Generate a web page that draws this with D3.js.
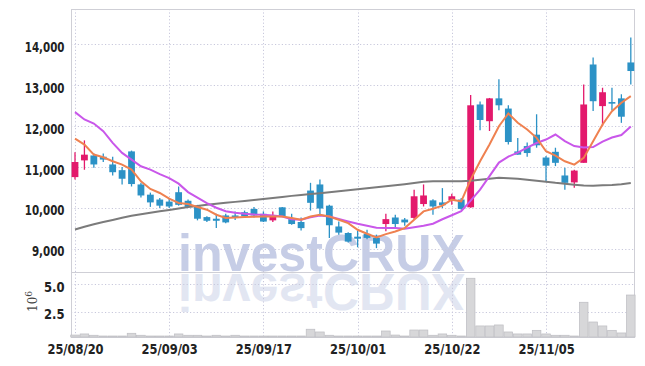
<!DOCTYPE html>
<html><head><meta charset="utf-8">
<script src="https://cdn.jsdelivr.net/npm/d3@7/dist/d3.min.js"></script>
<style>
html,body{margin:0;padding:0;background:#fff;}
svg{display:block;}
</style></head><body>
<svg id="c" width="645" height="366"></svg>
<script>
// ---- data ----
const dates = ["25/08/20","25/08/21","25/08/22","25/08/25","25/08/26","25/08/27","25/08/28","25/08/29","25/09/01","25/09/02",
"25/09/03","25/09/04","25/09/05","25/09/08","25/09/09","25/09/10","25/09/11","25/09/12","25/09/15","25/09/16",
"25/09/17","25/09/18","25/09/19","25/09/22","25/09/23","25/09/24","25/09/25","25/09/26","25/09/29","25/09/30",
"25/10/01","25/10/02","25/10/10","25/10/13","25/10/14","25/10/15","25/10/16","25/10/17","25/10/20","25/10/21",
"25/10/22","25/10/23","25/10/24","25/10/27","25/10/28","25/10/29","25/10/30","25/10/31","25/11/03","25/11/04",
"25/11/05","25/11/06","25/11/07","25/11/10","25/11/11","25/11/12","25/11/13","25/11/14","25/11/17","25/11/18"];
const open = [10750,11160,11280,11250,11060,10920,11380,10570,10320,10200,
10150,10380,10170,10030,9770,9730,9810,9810,9890,9970,
9850,9690,10010,9720,9650,10420,10570,10050,9540,9380,
9290,9360,9260,9600,9760,9710,9750,10090,10180,10130,
10180,10200,10010,12530,12120,12680,12430,11380,11510,11790,
11230,11370,10790,10620,11100,13510,12490,12590,12680,13560];
const high = [11360,11650,11330,11330,11250,11000,11400,10610,10370,10240,
10240,10520,10200,10070,9790,9850,9850,9910,9930,10020,
9910,9910,10020,9850,9760,10610,10690,10070,9660,9400,
9440,9460,9340,9850,9830,9750,10440,10570,10210,10480,
10340,10240,12760,12600,12690,13150,12510,11710,11600,12290,
11270,11470,10980,10930,13020,13680,12940,12940,12780,14170];
const low = [10690,10930,10980,11120,10790,10570,10520,10250,10020,9990,
9990,10050,10000,9690,9650,9500,9620,9700,9760,9760,
9650,9650,9780,9580,9440,9930,9790,9260,9340,9150,
9030,9230,9010,9420,9500,9560,9710,10030,9830,9990,
10070,9950,10000,11900,11880,12390,11550,11300,11250,11470,
10650,11020,10440,10490,11100,12370,12000,12390,12080,13020];
const close = [11120,11300,11060,11180,10870,10710,10580,10300,10130,10050,
10030,10070,10020,9730,9680,9680,9640,9760,9790,9810,
9660,9790,9790,9600,9500,10120,9980,9570,9390,9170,
9240,9260,9120,9720,9600,9640,10280,10300,10030,10060,
10280,9970,12510,12150,12680,12510,11610,11300,11340,11530,
11030,11100,10610,10910,12530,12610,12830,12550,12230,13350];
const volume = [0.37,0.47,0.35,0.25,0.25,0.25,0.53,0.35,0.25,0.25,
0.25,0.47,0.35,0.35,0.25,0.35,0.25,0.35,0.25,0.25,
0.25,0.25,0.25,0.25,0.25,0.9,0.65,0.35,0.25,0.25,
0.25,0.25,0.25,0.74,0.37,0.25,0.83,0.83,0.35,0.47,
0.35,0.25,5.55,1.2,1.2,1.29,0.65,0.47,0.47,0.8,
0.47,0.35,0.35,0.25,3.36,1.56,1.2,0.8,0.56,4.02];
const ma5 = [11695,11548,11302,11236,11138,11057,10934,10646,10459,10361,
10221,10115,10091,10017,9951,9828,9747,9762,9771,9779,
9786,9786,9786,9747,9705,9786,9828,9786,9705,9623,
9459,9361,9271,9353,9418,9501,9705,9910,9975,10049,
10197,10155,10688,11138,11548,11998,12310,12081,11916,11712,
11383,11278,11138,11057,11221,11629,12039,12366,12572,12735];
const ma20 = [12342,12162,12064,11875,11590,11344,11180,11015,10934,10823,
10725,10590,10383,10246,10110,10000,9914,9877,9853,9836,
9828,9811,9784,9717,9705,9767,9811,9786,9722,9663,
9607,9558,9509,9501,9501,9484,9521,9558,9607,9717,
9816,9914,10172,10442,10774,11106,11253,11351,11474,11585,
11671,11794,11634,11511,11474,11486,11622,11720,11781,11990];
const ma60 = [9464,9533,9595,9649,9700,9754,9803,9840,9877,9914,
9946,9983,10015,10044,10074,10098,10120,10143,10167,10189,
10214,10238,10265,10290,10314,10337,10356,10378,10403,10425,
10450,10477,10501,10528,10553,10577,10604,10636,10646,10646,
10646,10646,10663,10688,10712,10737,10725,10708,10688,10659,
10634,10609,10590,10565,10545,10541,10548,10558,10577,10607];
const tickLabels = ["25/08/20","25/09/03","25/09/17","25/10/01","25/10/22","25/11/05"];
const priceTicks = [9000,10000,11000,12000,13000,14000];
const volTicks = [2.5,5.0];

// ---- layout ----
const L = 71, R = 635, T = 9, SEP = 272.3, B = 337;
const svg = d3.select("#c");
const x = d3.scalePoint().domain(dates).range([75, 630.8]);
const y = d3.scaleLinear().domain([8417, 14870]).range([SEP, T]);
const yv = d3.scaleLinear().domain([0, 6.12]).range([339.1, 272]);
const FONT = "'DejaVu Sans','Liberation Sans',sans-serif";
const RED = "#e3196c", BLUE = "#2c92c6";
const GRID = "#c8c8dc";

// watermark
const wm = svg.append("g");
wm.append("text").attr("x", 178).attr("y", 271).attr("textLength", 287).attr("lengthAdjust","spacingAndGlyphs")
  .attr("font-family","'Liberation Sans',Arial,sans-serif").attr("font-weight","bold").attr("font-size", 52)
  .attr("fill","#c6cde6").text("investCRUX");
wm.append("text").attr("x", 178).attr("y", 271).attr("textLength", 287).attr("lengthAdjust","spacingAndGlyphs")
  .attr("transform","translate(0,545) scale(1,-1)")
  .attr("font-family","'Liberation Sans',Arial,sans-serif").attr("font-weight","bold").attr("font-size", 52)
  .attr("fill","#e2e6f2").text("investCRUX");

// grid
const grid = svg.append("g").attr("stroke", GRID).attr("stroke-dasharray","1.2,2.2").attr("stroke-width",1);
grid.selectAll(".hp").data(priceTicks).join("line")
  .attr("x1", L).attr("x2", R).attr("y1", d => Math.round(y(d))+0.5).attr("y2", d => Math.round(y(d))+0.5);
grid.selectAll(".hv").data(volTicks).join("line")
  .attr("x1", L).attr("x2", R).attr("y1", d => Math.round(yv(d))+0.5).attr("y2", d => Math.round(yv(d))+0.5);
grid.selectAll(".vv").data(tickLabels).join("line")
  .attr("x1", d => Math.round(x(d))+0.5).attr("x2", d => Math.round(x(d))+0.5).attr("y1", T).attr("y2", B);

// frame
const frame = svg.append("g").attr("stroke","#cfcfd6").attr("fill","none").attr("stroke-width",1);
frame.append("rect").attr("x", L+0.5).attr("y", T+0.5).attr("width", R-L-1).attr("height", B-T);
frame.append("line").attr("x1", L).attr("x2", R).attr("y1", Math.round(SEP)+0.5).attr("y2", Math.round(SEP)+0.5);

// volume bars
svg.append("g").selectAll("rect").data(dates).join("rect")
  .attr("x", d => x(d) - 4.3).attr("width", 8.6)
  .attr("y", (d,i) => Math.min(yv(volume[i]), B-1))
  .attr("height", (d,i) => Math.max(1, B - yv(volume[i])))
  .attr("fill","#d7d7d9").attr("stroke","#bdbdc2").attr("stroke-width",0.7);

// candles
const cg = svg.append("g");
dates.forEach((d,i) => {
  const up = close[i] >= open[i];
  const col = up ? RED : BLUE;
  const cx = x(d);
  cg.append("line").attr("x1", cx).attr("x2", cx).attr("y1", y(high[i])).attr("y2", y(low[i]))
    .attr("stroke", col).attr("stroke-width", 1.3);
  const top = y(Math.max(open[i], close[i])), bot = y(Math.min(open[i], close[i]));
  cg.append("rect").attr("x", cx - 3.4).attr("width", 6.8).attr("y", top).attr("height", Math.max(1.2, bot - top))
    .attr("fill", col);
});

// moving averages
const line = arr => d3.line().x((d,i) => x(dates[i])).y(d => y(d)).curve(d3.curveLinear)(arr);
svg.append("path").attr("d", line(ma60)).attr("fill","none").attr("stroke","#7b7b7b").attr("stroke-width",2);
svg.append("path").attr("d", line(ma20)).attr("fill","none").attr("stroke","#c957ea").attr("stroke-width",2);
svg.append("path").attr("d", line(ma5)).attr("fill","none").attr("stroke","#ef8150").attr("stroke-width",2);

// axes
const ya = svg.append("g").attr("transform", `translate(${L},0)`)
  .call(d3.axisLeft(y).tickValues(priceTicks).tickSize(0).tickPadding(6.5).tickFormat(d3.format(",")));
const yva = svg.append("g").attr("transform", `translate(${L},0)`)
  .call(d3.axisLeft(yv).tickValues(volTicks).tickSize(0).tickPadding(6.5).tickFormat(d3.format(".1f")));
const xa = svg.append("g").attr("transform", `translate(0,${B})`)
  .call(d3.axisBottom(x).tickValues(tickLabels).tickSize(0).tickPadding(6.3));
[ya, yva, xa].forEach(g => {
  g.select(".domain").remove();
  g.selectAll("text").attr("font-family", FONT).attr("font-size", 14.5).attr("font-weight","bold").attr("fill","#222");
});
ya.selectAll("text").attr("dy","0.5em").each(function(){
  const w = this.getComputedTextLength();
  d3.select(this).attr("textLength", w*0.71).attr("lengthAdjust","spacingAndGlyphs");
});
yva.selectAll("text").attr("dy","0.5em").each(function(){
  const w = this.getComputedTextLength();
  d3.select(this).attr("textLength", w*0.8).attr("lengthAdjust","spacingAndGlyphs");
});
xa.selectAll("text").each(function(){
  const w = this.getComputedTextLength();
  d3.select(this).attr("textLength", w*0.79).attr("lengthAdjust","spacingAndGlyphs");
});

// 10^6 label
const ex = svg.append("text").attr("transform","translate(37,312) rotate(-90)")
  .attr("font-family","'DejaVu Serif',serif").attr("font-size",12).attr("fill","#444");
ex.append("tspan").text("10");
ex.append("tspan").attr("dy",-5).attr("font-size",9).text("6");
</script>
</body></html>
